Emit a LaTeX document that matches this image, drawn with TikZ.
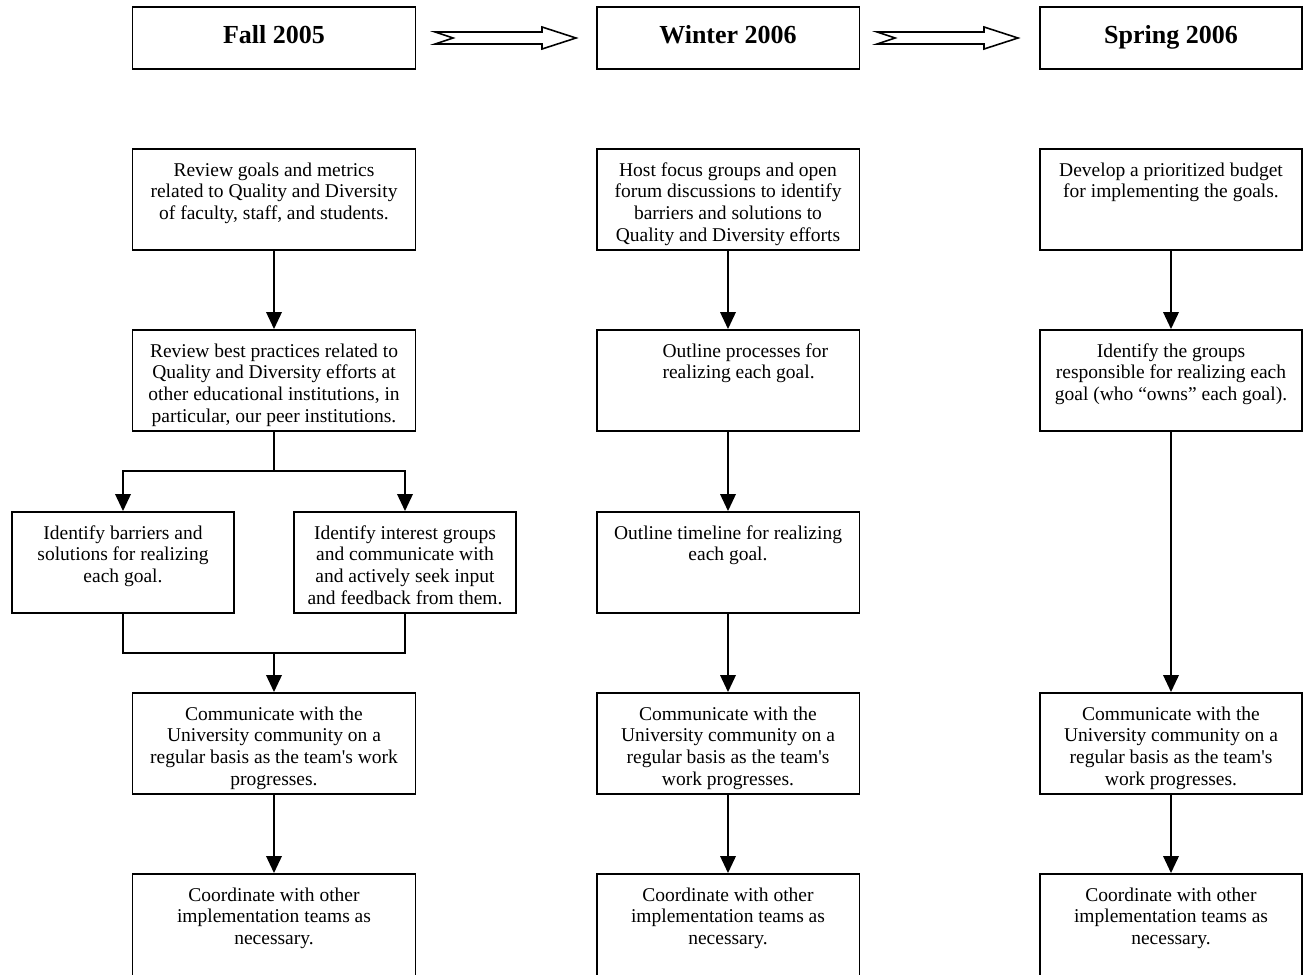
\documentclass[tikz,border=0pt]{standalone}
\usepackage{fontspec}
\setmainfont{Liberation Serif}[Ligatures=TeXOff]
\usetikzlibrary{arrows.meta, positioning}

\newcommand{\boxtext}[3][2.02cm]{\parbox[c][#1][t]{#2}{\centering\rule{0pt}{0.54cm}#3}}
\newcommand{\headtext}[2]{\parbox[c][1.24cm][t]{#1}{\centering\rule{0pt}{0.72cm}#2}}

\tikzset{
  stepbox/.style={draw, line width=1.1pt, inner sep=0pt, font=\fontsize{11.1}{12.4}\selectfont},
  headbox/.style={draw, line width=1.1pt, inner sep=0pt, font=\fontsize{14.8}{16}\selectfont\bfseries},
  flow/.style={line width=1.1pt, -{Triangle[length=0.34cm, width=0.31cm]}},
  link/.style={line width=1.1pt},
  blockarrow/.style={line width=0.9pt, line join=miter}
}

\begin{document}
\begin{tikzpicture}[x=0.02cm, y=-0.02cm]
  \useasboundingbox (0,0) rectangle (1304,974);
  \clip (0,0) rectangle (1304,974);

  % terms
  \node[headbox] (fall) at (274,38) {\headtext{5.66cm}{Fall 2005}};
  \node[headbox] (winter) at (728,38) {\headtext{5.26cm}{Winter 2006}};
  \node[headbox] (spring) at (1171,38) {\headtext{5.24cm}{Spring 2006}};
  \foreach \ax in {435,877}
    \draw[blockarrow] (\ax,32) -- ++(107,0) -- ++(0,-5) -- ++(34,11) -- ++(-34,11)
      -- ++(0,-5) -- ++(-107,0) -- ++(18,-6) -- cycle;

  % Fall 2005
  \node[stepbox] (f1) at (274,199.5) {\boxtext{5.66cm}{Review goals and metrics\\related to Quality and Diversity\\of faculty, staff, and students.}};
  \node[stepbox] (f2) at (274,380.5) {\boxtext{5.66cm}{Review best practices related to\\Quality and Diversity efforts at\\other educational institutions, in\\particular, our peer institutions.}};
  \node[stepbox] (fa) at (123,562.5) {\boxtext{4.44cm}{Identify barriers and\\solutions for realizing\\each goal.}};
  \node[stepbox] (fb) at (405,562.5) {\boxtext{4.44cm}{Identify interest groups\\and communicate with\\and actively seek input\\and feedback from them.}};
  \node[stepbox] (f3) at (274,743.5) {\boxtext{5.66cm}{Communicate with the\\University community on a\\regular basis as the team's work\\progresses.}};
  \node[stepbox] (f4) at (274,926) {\boxtext[2.08cm]{5.66cm}{Coordinate with other\\implementation teams as\\necessary.}};
  \coordinate (fsplit) at (274,471);
  \coordinate (fjoin) at (274,653);

  % Winter 2006
  \node[stepbox] (w1) at (728,199.5) {\boxtext{5.26cm}{Host focus groups and open\\forum discussions to identify\\barriers and solutions to\\Quality and Diversity efforts}};
  \node[stepbox] (w2) at (728,380.5) {\parbox[c][2.02cm][t]{5.26cm}{\raggedright\rule{0pt}{0.54cm}\hspace*{1.32cm}Outline processes for\\\hspace*{1.32cm}realizing each goal.}};
  \node[stepbox] (w3) at (728,562.5) {\boxtext{5.26cm}{Outline timeline for realizing\\each goal.}};
  \node[stepbox] (w4) at (728,743.5) {\boxtext{5.26cm}{Communicate with the\\University community on a\\regular basis as the team's\\work progresses.}};
  \node[stepbox] (w5) at (728,926) {\boxtext[2.08cm]{5.26cm}{Coordinate with other\\implementation teams as\\necessary.}};

  % Spring 2006
  \node[stepbox] (s1) at (1171,199.5) {\boxtext{5.24cm}{Develop a prioritized budget\\for implementing the goals.}};
  \node[stepbox] (s2) at (1171,380.5) {\boxtext{5.24cm}{Identify the groups\\responsible for realizing each\\goal (who “owns” each goal).}};
  \node[stepbox] (s3) at (1171,743.5) {\boxtext{5.24cm}{Communicate with the\\University community on a\\regular basis as the team's\\work progresses.}};
  \node[stepbox] (s4) at (1171,926) {\boxtext[2.08cm]{5.24cm}{Coordinate with other\\implementation teams as\\necessary.}};

  \draw[flow] (f1) -- (f2);
  \draw[link] (f2) -- (fsplit);
  \draw[flow] (fsplit) -| (fa);
  \draw[flow] (fsplit) -| (fb);
  \draw[link] (fa) |- (fjoin);
  \draw[link] (fb) |- (fjoin);
  \draw[flow] (fjoin) -- (f3);
  \draw[flow] (f3) -- (f4);

  \draw[flow] (w1) -- (w2);
  \draw[flow] (w2) -- (w3);
  \draw[flow] (w3) -- (w4);
  \draw[flow] (w4) -- (w5);

  \draw[flow] (s1) -- (s2);
  \draw[flow] (s2) -- (s3);
  \draw[flow] (s3) -- (s4);
\end{tikzpicture}
\end{document}
